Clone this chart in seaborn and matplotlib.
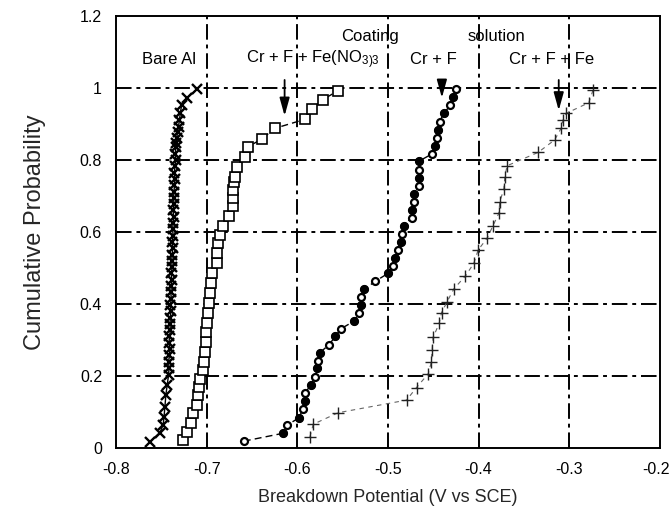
import numpy as np
import pandas as pd
import matplotlib
matplotlib.use("Agg")
import matplotlib.pyplot as plt
import matplotlib.transforms as mtransforms
import seaborn as sns

# Breakdown potential (V vs SCE) and cumulative probability for each coating
bare_al_x = [-0.7625, -0.7515, -0.748, -0.747, -0.746, -0.745, -0.7435, -0.742,
             -0.7415, -0.742, -0.741, -0.7405, -0.7415, -0.741, -0.740, -0.7405,
             -0.740, -0.7395, -0.740, -0.739, -0.7395, -0.739, -0.7385, -0.739,
             -0.738, -0.7385, -0.738, -0.7375, -0.738, -0.737, -0.7375, -0.737,
             -0.7365, -0.737, -0.736, -0.7365, -0.736, -0.7355, -0.735, -0.7355,
             -0.735, -0.734, -0.7345, -0.734, -0.7335, -0.733, -0.732, -0.731,
             -0.730, -0.729, -0.7276, -0.722, -0.711]
bare_al_y = [0.018, 0.043, 0.064, 0.087, 0.115, 0.147, 0.175, 0.203,
             0.222, 0.240, 0.257, 0.275, 0.292, 0.310, 0.327, 0.345,
             0.362, 0.380, 0.397, 0.415, 0.432, 0.450, 0.467, 0.485,
             0.502, 0.520, 0.537, 0.555, 0.572, 0.590, 0.607, 0.625,
             0.642, 0.660, 0.677, 0.695, 0.712, 0.730, 0.747, 0.765,
             0.782, 0.800, 0.817, 0.835, 0.846, 0.862, 0.878, 0.893,
             0.912, 0.930, 0.953, 0.971, 0.996]

fe_no3_x = [-0.7258, -0.7215, -0.7173, -0.7148, -0.711, -0.7093, -0.7082, -0.7074,
            -0.7037, -0.703, -0.7019, -0.7008, -0.7008, -0.700, -0.6982, -0.6975,
            -0.6964, -0.6956, -0.6945, -0.689, -0.6883, -0.6872, -0.685, -0.6824,
            -0.675, -0.6713, -0.6707, -0.6707, -0.670, -0.669, -0.6663, -0.6578,
            -0.6541, -0.6394, -0.6247, -0.5916, -0.5842, -0.5721, -0.5549]
fe_no3_y = [0.022, 0.045, 0.069, 0.096, 0.119, 0.147, 0.170, 0.191,
            0.217, 0.240, 0.268, 0.295, 0.323, 0.346, 0.374, 0.402,
            0.430, 0.457, 0.485, 0.513, 0.541, 0.569, 0.593, 0.618,
            0.644, 0.672, 0.694, 0.717, 0.740, 0.754, 0.780, 0.809,
            0.837, 0.858, 0.888, 0.913, 0.941, 0.967, 0.993]

cr_f_x = [-0.659, -0.6155, -0.611, -0.598, -0.594, -0.592, -0.591, -0.585,
          -0.580, -0.578, -0.577, -0.575, -0.565, -0.558, -0.552, -0.537,
          -0.532, -0.530, -0.530, -0.526, -0.514, -0.500, -0.4945, -0.4917,
          -0.4894, -0.486, -0.484, -0.4825, -0.474, -0.473, -0.4715, -0.471,
          -0.466, -0.4656, -0.4652, -0.4656, -0.4513, -0.4483, -0.4464, -0.4446,
          -0.443, -0.4384, -0.431, -0.428, -0.425]
cr_f_y = [0.019, 0.041, 0.064, 0.084, 0.108, 0.131, 0.154, 0.176,
          0.198, 0.221, 0.243, 0.265, 0.287, 0.310, 0.331, 0.353,
          0.375, 0.397, 0.419, 0.441, 0.463, 0.485, 0.506, 0.529,
          0.551, 0.572, 0.595, 0.618, 0.640, 0.662, 0.684, 0.706,
          0.729, 0.751, 0.773, 0.797, 0.817, 0.838, 0.862, 0.884,
          0.906, 0.930, 0.952, 0.975, 0.997]

cr_f_fe_x = [-0.5861, -0.5824, -0.5549, -0.4795, -0.4685, -0.4556, -0.452, -0.4513,
             -0.4502, -0.4435, -0.4409, -0.4348, -0.4273, -0.4145, -0.4053, -0.4005,
             -0.3906, -0.384, -0.3777, -0.3766, -0.3722, -0.371, -0.3686, -0.3344,
             -0.316, -0.3086, -0.3068, -0.3031, -0.2785, -0.2738]
cr_f_fe_y = [0.031, 0.066, 0.098, 0.133, 0.168, 0.206, 0.240, 0.272,
             0.307, 0.346, 0.376, 0.406, 0.442, 0.478, 0.513, 0.550,
             0.583, 0.618, 0.652, 0.684, 0.719, 0.754, 0.784, 0.821,
             0.856, 0.890, 0.911, 0.930, 0.959, 0.994]

x_ticks = [-0.8, -0.7, -0.6, -0.5, -0.4, -0.3, -0.2]
x_tick_labels = ["-0.8", "-0.7", "-0.6", "-0.5", "-0.4", "-0.3", "-0.2"]
y_ticks = [0, 0.2, 0.4, 0.6, 0.8, 1.0, 1.2]
y_tick_labels = ["0", "0.2", "0.4", "0.6", "0.8", "1", "1.2"]

sns.set_theme(style="white")
plt.rcParams["font.family"] = ["Liberation Sans", "DejaVu Sans"]
plt.rcParams["mathtext.default"] = "regular"

fig = plt.figure(figsize=(6.72, 5.08), dpi=100)
ax = fig.add_axes([0.1726, 0.1181, 0.8094, 0.8504])

grid_ls = (0, (8, 2.5, 2, 2.5))
for v in x_ticks[1:-1]:
    ax.axvline(v, color="black", lw=1.4, ls=grid_ls, zorder=1)
for v in y_ticks[1:-1]:
    ax.axhline(v, color="black", lw=1.4, ls=grid_ls, zorder=1)

df_bare = pd.DataFrame({"x": bare_al_x, "y": bare_al_y})
df_fe_no3 = pd.DataFrame({"x": fe_no3_x, "y": fe_no3_y})
df_cr_f = pd.DataFrame({"x": cr_f_x, "y": cr_f_y})
df_cr_f_fe = pd.DataFrame({"x": cr_f_fe_x, "y": cr_f_fe_y})

sns.lineplot(data=df_bare, x="x", y="y", sort=False, estimator=None, ax=ax,
             color="black", lw=1.0, marker="x", markersize=7,
             markeredgewidth=1.7, markeredgecolor="black", zorder=3)
sns.lineplot(data=df_fe_no3, x="x", y="y", sort=False, estimator=None, ax=ax,
             color="black", lw=1.0, ls=(0, (5, 3)), marker="s", markersize=6.5,
             markerfacecolor="white", markeredgecolor="black",
             markeredgewidth=1.2, zorder=3)
sns.lineplot(data=df_cr_f, x="x", y="y", sort=False, estimator=None, ax=ax,
             color="black", lw=1.0, ls=(0, (5, 3)), marker="o", markersize=5,
             markerfacecolor="white", markeredgecolor="black",
             markeredgewidth=1.6, zorder=3)
# every other point of the Cr + F series is drawn filled
sns.scatterplot(x=cr_f_x[1::2], y=cr_f_y[1::2], ax=ax, marker="o", s=26,
                color="black", edgecolor="black", linewidth=1.0, zorder=4)
sns.lineplot(data=df_cr_f_fe, x="x", y="y", sort=False, estimator=None, ax=ax,
             color="#666666", lw=0.8, ls=(0, (4, 4)), marker="+", markersize=9,
             markeredgewidth=1.0, markeredgecolor="#222222", zorder=3)

ax.set_xlim(-0.8, -0.2)
ax.set_ylim(0, 1.2)
ax.set_xticks(x_ticks)
ax.set_xticklabels(x_tick_labels)
ax.set_yticks(y_ticks)
ax.set_yticklabels(y_tick_labels)
ax.tick_params(axis="both", length=0, labelsize=11.5, colors="black")
ax.tick_params(axis="x", pad=10)
ax.tick_params(axis="y", pad=10)
# nudge the right-most x label inward so it stays inside the figure
last = ax.get_xticklabels()[-1]
last.set_transform(last.get_transform() +
                   mtransforms.ScaledTranslation(-4 / 100, 0, fig.dpi_scale_trans))
for sp in ax.spines.values():
    sp.set_color("black")
    sp.set_linewidth(1.4)

ax.set_xlabel("Breakdown Potential (V vs SCE)", fontsize=13, labelpad=9)
ax.set_ylabel("Cumulative Probability", fontsize=17, labelpad=24)

txt = dict(fontsize=12, ha="center", va="center", color="black")
ax.text(-0.742, 1.078, "Bare Al", **txt)
ax.text(-0.52, 1.142, "Coating", **txt)
ax.text(-0.38, 1.142, "solution", **txt)
ax.text(-0.583, 1.078, r"Cr + F + Fe(NO$_{3)3}$", **txt)
ax.text(-0.45, 1.078, "Cr + F", **txt)
ax.text(-0.319, 1.078, "Cr + F + Fe", **txt)

arrow = dict(arrowstyle="-|>,head_length=0.9,head_width=0.25", color="black", lw=1.3)
ax.annotate("", xy=(-0.614, 0.915), xytext=(-0.614, 1.03), arrowprops=arrow)
ax.annotate("", xy=(-0.4405, 0.965), xytext=(-0.4405, 1.03), arrowprops=arrow)
ax.annotate("", xy=(-0.3116, 0.93), xytext=(-0.3116, 1.03), arrowprops=arrow)

fig.savefig("out.png", dpi=100)
